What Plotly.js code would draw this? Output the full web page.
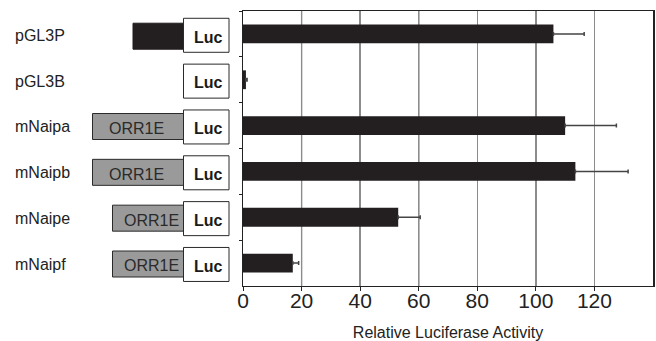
<!DOCTYPE html>
<html>
<head>
<meta charset="utf-8">
<script src="https://cdn.plot.ly/plotly-3.0.1.min.js"></script>
<style>html,body{margin:0;padding:0;background:#fff;}#chart{width:656px;height:341px;}</style>
</head>
<body>
<div id="chart"></div>
<script>
// ---- data ----
const constructs = ['pGL3P', 'pGL3B', 'mNaipa', 'mNaipb', 'mNaipe', 'mNaipf'];
const activity   = [106, 1, 110, 113.5, 53, 17];
const errors     = [10.5, 0.4, 17.5, 18, 7.5, 2];
const inserts    = ['SV40', '', 'ORR1E', 'ORR1E', 'ORR1E', 'ORR1E'];
const insertSize = ['sv40', 'none', 'long', 'long', 'short', 'short'];
const reporter   = 'Luc';
const tickValues = [0, 20, 40, 60, 80, 100, 120];
const xTitle     = 'Relative Luciferase Activity';

// ---- geometry / style ----
const W = 656, H = 341;
const M = {l: 243, r: 3, t: 11, b: 55};
const PW = W - M.l - M.r;
const PH = H - M.t - M.b;
const rowPx = PH / constructs.length;
const FONT = 'Liberation Sans, Arial, sans-serif';
const px = x => (x - M.l) / PW;           // pixel x -> paper x
const hu = h => h / rowPx / 2;             // pixel height -> half height in category units

const lucLeft = 183.5, lucRight = 229;
const insertLeft = {sv40: 133, long: 92.5, short: 112.5};

const shapes = [];
const annotations = [];

// alternating darker grid lines
tickValues.forEach((v, i) => {
  if (i % 2 === 1) {
    shapes.push({type: 'line', xref: 'x', yref: 'paper', x0: v, x1: v, y0: 0, y1: 1,
      line: {color: '#222', width: 1.2}, layer: 'below'});
  }
});

constructs.forEach((name, i) => {
  const kind = insertSize[i];
  if (kind === 'sv40') {
    shapes.push({type: 'rect', xref: 'paper', yref: 'y',
      x0: px(insertLeft.sv40), x1: px(lucLeft), y0: i - hu(26) + 0.05, y1: i + hu(26) + 0.05,
      fillcolor: '#231f20', line: {color: '#231f20', width: 1}});
  } else if (kind !== 'none') {
    shapes.push({type: 'rect', xref: 'paper', yref: 'y',
      x0: px(insertLeft[kind]), x1: px(lucLeft), y0: i - hu(26) + 0.02, y1: i + hu(26) + 0.02,
      fillcolor: '#9a9a9a', line: {color: '#2a2a2a', width: 1}});
    annotations.push({xref: 'paper', yref: 'y', x: px((insertLeft[kind] + lucLeft) / 2 + (kind === 'short' ? 3 : -2)),
      y: i + 0.06, text: inserts[i], showarrow: false, xanchor: 'center', yanchor: 'middle',
      font: {family: FONT, size: 16, color: '#2a2a2a'}});
  }
  shapes.push({type: 'rect', xref: 'paper', yref: 'y',
    x0: px(lucLeft), x1: px(lucRight), y0: i - hu(34) + 0.03, y1: i + hu(34) + 0.03,
    fillcolor: '#ffffff', line: {color: '#2a2a2a', width: 1}});
  annotations.push({xref: 'paper', yref: 'y', x: px((lucLeft + lucRight) / 2 + 2), y: i + 0.07,
    text: '<b>' + reporter + '</b>', showarrow: false, xanchor: 'center', yanchor: 'middle',
    font: {family: FONT, size: 16, color: '#1a1a1a'}});
  annotations.push({xref: 'paper', yref: 'y', x: px(13), y: i + 0.03, text: name, showarrow: false,
    xanchor: 'left', yanchor: 'middle', font: {family: FONT, size: 16, color: '#222'}});
});

const trace = {
  type: 'bar', orientation: 'h',
  x: activity, y: constructs,
  width: 0.41,
  marker: {color: '#231f20', line: {width: 0}},
  error_x: {type: 'data', symmetric: false, array: errors, arrayminus: errors.map(() => 0),
    visible: true, color: '#444', thickness: 1.5, width: 2},
  hoverinfo: 'skip'
};

const layout = {
  width: W, height: H,
  margin: M,
  paper_bgcolor: '#fff', plot_bgcolor: '#fff',
  showlegend: false,
  font: {family: FONT, color: '#222'},
  xaxis: {
    range: [0, 140], tickvals: tickValues, ticktext: tickValues.map(String),
    ticks: 'outside', ticklen: 4, tickwidth: 1, tickcolor: '#222',
    ticklabelstandoff: -8,
    showgrid: true, gridcolor: '#8c8c8c', gridwidth: 1.5, zeroline: false,
    showline: true, mirror: true, linecolor: '#222', linewidth: 1.2,
    tickfont: {family: FONT, size: 21, color: '#222'},
    title: {text: xTitle, font: {family: FONT, size: 16, color: '#222'}, standoff: 22},
    fixedrange: true
  },
  yaxis: {
    type: 'category', categoryorder: 'array', categoryarray: constructs,
    range: [constructs.length - 0.5, -0.5],
    showticklabels: false, ticks: 'outside', tickson: 'boundaries', ticklen: 3, tickcolor: '#222',
    showgrid: false, zeroline: false, showline: true, mirror: true, linecolor: '#222', linewidth: 1.5,
    fixedrange: true
  },
  shapes: shapes,
  annotations: annotations
};

Plotly.newPlot('chart', [trace], layout, {staticPlot: true, displayModeBar: false});
</script>
</body>
</html>
